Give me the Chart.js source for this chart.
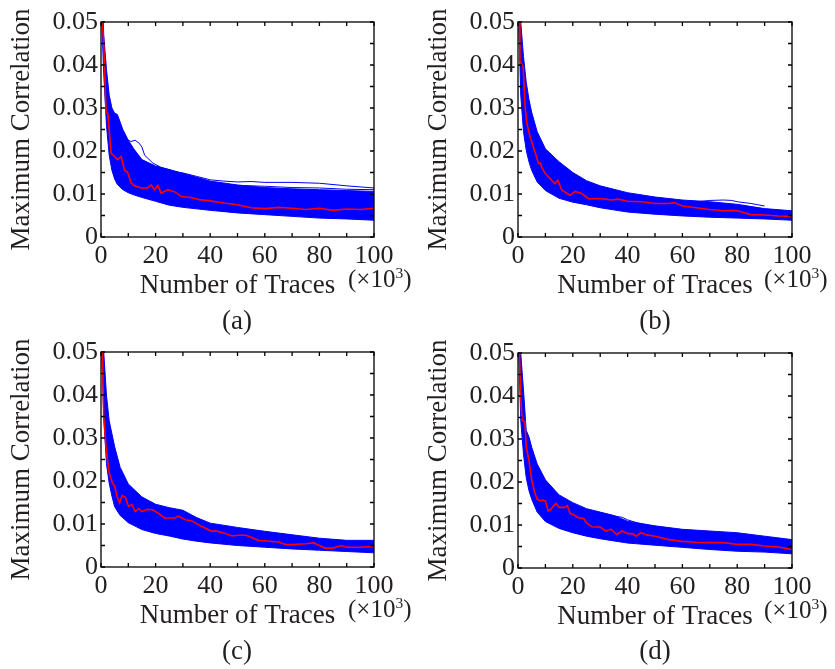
<!DOCTYPE html>
<html>
<head>
<meta charset="utf-8">
<script src="https://cdn.jsdelivr.net/npm/chart.js@4"></script>
<style>
  body { margin: 0; background: #fff; }
  #fig { position: relative; width: 835px; height: 669px; background: #fff; font-family: "Liberation Serif", serif; color: #231f20; }
  #fig canvas { position: absolute; }
  .unit { position: absolute; font-size: 25px; line-height: 25px; white-space: nowrap; }
  .unit sup { font-size: 0.62em; vertical-align: 0.55em; line-height: 0; }
  .cap { position: absolute; width: 100px; text-align: center; font-size: 27px; line-height: 28px; }
</style>
</head>
<body>
<div id="fig">
  <canvas id="ca" width="417" height="310" style="left:0;top:0"></canvas>
  <canvas id="cb" width="418" height="310" style="left:417px;top:0"></canvas>
  <canvas id="cc" width="417" height="310" style="left:0;top:330px"></canvas>
  <canvas id="cd" width="418" height="310" style="left:417px;top:331px"></canvas>
  <div class="unit" style="left:348px;top:266px">(×10<sup>3</sup>)</div>
  <div class="unit" style="left:764px;top:266px">(×10<sup>3</sup>)</div>
  <div class="unit" style="left:348px;top:596px">(×10<sup>3</sup>)</div>
  <div class="unit" style="left:764px;top:597px">(×10<sup>3</sup>)</div>
  <div class="cap" style="left:187px;top:306px">(a)</div>
  <div class="cap" style="left:605px;top:306px">(b)</div>
  <div class="cap" style="left:187px;top:636px">(c)</div>
  <div class="cap" style="left:605px;top:636px">(d)</div>
</div>
<script>
// tick marks (inward, every 10 on x and 0.005 on y)
const xTickMarks = [0, 10, 20, 30, 40, 50, 60, 70, 80, 90, 100];
const yTickMarks = [0, 0.005, 0.01, 0.015, 0.02, 0.025, 0.03, 0.035, 0.04, 0.045, 0.05];

// (a)  band = envelope of the blue traces
const aBandX = [0.3, 1, 2, 3, 4, 5, 6, 8, 10, 12, 15, 20, 25, 30, 40, 50, 60, 70, 80, 90, 100];
const aUpper = [0.06, 0.047, 0.039, 0.033, 0.03, 0.0288, 0.0285, 0.025, 0.0225, 0.0205, 0.018, 0.0165, 0.0157, 0.0148, 0.013, 0.0121, 0.0115, 0.0112, 0.011, 0.0108, 0.0106];
const aLower = [0.05, 0.038, 0.026, 0.019, 0.0155, 0.0135, 0.0122, 0.011, 0.0103, 0.0098, 0.0092, 0.0083, 0.0074, 0.0069, 0.0062, 0.0056, 0.0052, 0.0048, 0.0044, 0.0042, 0.0039];
const aOut1X = [8, 9, 11, 12.5, 14, 15, 16, 19, 22, 27, 30, 35, 40, 45, 50, 55, 60, 70, 80, 90, 100];
const aOut1Y = [0.024, 0.0228, 0.0222, 0.0225, 0.0218, 0.0209, 0.019, 0.0172, 0.0162, 0.0152, 0.0149, 0.0141, 0.0133, 0.013, 0.0128, 0.0129, 0.0127, 0.0127, 0.0125, 0.0119, 0.0114];
const aOut2X = [30, 36, 40, 50, 60, 70, 80, 90, 100];
const aOut2Y = [0.0145, 0.0128, 0.0126, 0.012, 0.0118, 0.0115, 0.0114, 0.0111, 0.011];
const aRedX = [0.5, 1, 1.5, 1.9, 2.5, 3, 3.7, 5, 6, 7.4, 8.6, 9.8, 11, 12.2, 14.7, 17, 18.4, 19.6, 20.8, 22, 24.5, 27, 29.4, 33, 36, 40, 45, 50, 55, 60, 65, 70, 75, 80, 85, 90, 95, 100];
const aRedY = [0.05, 0.045, 0.035, 0.0289, 0.0287, 0.025, 0.0195, 0.0187, 0.018, 0.0187, 0.0156, 0.015, 0.0126, 0.0119, 0.0114, 0.0114, 0.0121, 0.011, 0.012, 0.0102, 0.011, 0.0105, 0.0094, 0.0092, 0.0087, 0.0084, 0.0079, 0.0075, 0.0068, 0.0066, 0.0069, 0.0067, 0.0064, 0.0067, 0.0062, 0.0065, 0.0064, 0.0067];

// (b)
const bBandX = [0.3, 1, 2, 3, 4, 5, 7, 10, 15, 20, 25, 30, 40, 50, 60, 70, 75, 80, 90, 100];
const bUpper = [0.07, 0.05, 0.042, 0.036, 0.032, 0.029, 0.0245, 0.0205, 0.0175, 0.015, 0.0131, 0.0119, 0.0103, 0.0093, 0.0086, 0.0082, 0.0079, 0.0076, 0.0066, 0.0061];
const bLower = [0.05, 0.033, 0.0245, 0.0202, 0.0175, 0.0155, 0.0128, 0.0108, 0.009, 0.0081, 0.0075, 0.0068, 0.0058, 0.0053, 0.0049, 0.0046, 0.0045, 0.0044, 0.0042, 0.0039];
const bOut1X = [65, 70, 75, 78, 80, 85, 90];
const bOut1Y = [0.0082, 0.0085, 0.0086, 0.0085, 0.0082, 0.0078, 0.0072];
const bRedX = [0.5, 0.7, 1.9, 2.5, 3.2, 4.4, 5.6, 7.5, 8.2, 8.7, 9.9, 12.3, 13.5, 14.5, 16, 19, 20.8, 23.3, 25.7, 30, 32, 34, 36.7, 40, 45, 50, 55, 57, 60, 65, 70, 75, 78, 80, 85, 90, 95, 100];
const bRedY = [0.05, 0.041, 0.0395, 0.031, 0.0265, 0.0233, 0.021, 0.0171, 0.0172, 0.0162, 0.0148, 0.0132, 0.0124, 0.0132, 0.0109, 0.0097, 0.0106, 0.0101, 0.0089, 0.0089, 0.0088, 0.0086, 0.0088, 0.0083, 0.0082, 0.0078, 0.0078, 0.008, 0.0072, 0.0068, 0.0064, 0.0061, 0.0062, 0.0061, 0.0052, 0.0051, 0.0049, 0.0048];

// (c)
const cBandX = [0.3, 1, 2, 3, 4, 5, 7, 10, 15, 20, 25, 30, 35, 40, 50, 60, 70, 80, 90, 100];
const cUpper = [0.07, 0.05, 0.04, 0.034, 0.031, 0.028, 0.0232, 0.0193, 0.0163, 0.0146, 0.0138, 0.0132, 0.0115, 0.0102, 0.0092, 0.0083, 0.0075, 0.0067, 0.0062, 0.0062];
const cLower = [0.05, 0.035, 0.024, 0.0195, 0.0165, 0.014, 0.012, 0.0103, 0.0087, 0.0078, 0.0072, 0.0065, 0.006, 0.0056, 0.005, 0.0046, 0.0042, 0.0039, 0.0036, 0.0033];
const cRedX = [0.5, 1, 1.9, 3, 4.2, 5, 5.9, 6.8, 7.7, 8.9, 10.1, 11.3, 12.6, 13.8, 15, 17, 18.9, 20.8, 23.3, 27, 28.4, 30.9, 33.3, 37, 40.6, 42, 45, 48, 50, 53, 55, 58, 60, 65, 68, 70, 75, 78, 80, 82, 85, 88, 90, 95, 100];
const cRedY = [0.05, 0.035, 0.0273, 0.0219, 0.0195, 0.0188, 0.0164, 0.0149, 0.0166, 0.0162, 0.0141, 0.0145, 0.0129, 0.0136, 0.0129, 0.0134, 0.0133, 0.0126, 0.0114, 0.0114, 0.0118, 0.011, 0.0107, 0.0094, 0.0083, 0.0084, 0.0079, 0.0072, 0.0074, 0.0074, 0.0069, 0.0061, 0.0061, 0.0058, 0.0052, 0.0052, 0.0054, 0.0056, 0.005, 0.0044, 0.0044, 0.005, 0.0046, 0.0046, 0.0048];

// (d)
const dBandX = [0.3, 1, 2, 3, 4, 5, 7, 10, 15, 20, 25, 30, 35, 40, 50, 60, 70, 80, 90, 100];
const dUpper = [0.07, 0.05, 0.0414, 0.032, 0.0305, 0.0281, 0.0242, 0.0205, 0.017, 0.0152, 0.0138, 0.013, 0.0122, 0.0109, 0.0098, 0.009, 0.0086, 0.0082, 0.0074, 0.0066];
const dLower = [0.05, 0.0344, 0.0265, 0.021, 0.018, 0.016, 0.013, 0.0108, 0.0092, 0.0082, 0.0074, 0.0068, 0.0063, 0.0058, 0.0053, 0.0048, 0.0043, 0.0039, 0.0037, 0.0033];
const dOut1X = [22, 25, 28, 30, 33, 35, 38, 40, 42, 45, 50];
const dOut1Y = [0.0135, 0.0129, 0.0128, 0.0124, 0.0124, 0.0121, 0.0118, 0.0112, 0.0108, 0.0102, 0.0095];
const dRedX = [0.5, 1, 1.5, 2.5, 3, 4, 5, 6, 7, 8, 9, 10, 11, 12, 13, 14, 15, 17, 18, 19, 20, 22, 24, 25, 27, 30, 32, 34, 36, 38, 40, 42, 43, 45, 47, 50, 55, 60, 65, 70, 75, 80, 85, 90, 95, 100];
const dRedY = [0.05, 0.0398, 0.0344, 0.034, 0.0281, 0.025, 0.0205, 0.0178, 0.016, 0.0156, 0.0158, 0.0156, 0.0133, 0.0136, 0.0145, 0.015, 0.0141, 0.0141, 0.0145, 0.0127, 0.0125, 0.0117, 0.0115, 0.0105, 0.0096, 0.0095, 0.0086, 0.009, 0.0078, 0.0086, 0.008, 0.008, 0.0074, 0.0082, 0.0077, 0.0074, 0.0066, 0.0062, 0.006, 0.0059, 0.0059, 0.0055, 0.0055, 0.0051, 0.0049, 0.0043];

const BLUE = "#0000ff";
const RED = "#ff0000";
const INK = "#231f20";
const pts = (xs, ys) => xs.map((x, i) => ({ x: x, y: ys[i] }));

// box round the plot with inward ticks on all four sides
const frame = {
  id: "frame",
  afterDatasetsDraw(chart) {
    const { ctx, chartArea: a, scales: { x, y } } = chart;
    const tl = 4;
    ctx.save();
    ctx.strokeStyle = "#000";
    ctx.lineWidth = 1.3;
    ctx.beginPath();
    xTickMarks.forEach(v => {
      const px = x.getPixelForValue(v);
      ctx.moveTo(px, a.bottom); ctx.lineTo(px, a.bottom - tl);
      ctx.moveTo(px, a.top); ctx.lineTo(px, a.top + tl);
    });
    yTickMarks.forEach(v => {
      const py = y.getPixelForValue(v);
      ctx.moveTo(a.left, py); ctx.lineTo(a.left + tl, py);
      ctx.moveTo(a.right, py); ctx.lineTo(a.right - tl, py);
    });
    ctx.stroke();
    ctx.strokeRect(a.left, a.top, a.right - a.left, a.bottom - a.top);
    ctx.restore();
  }
};

function makePanel(id, bandX, upper, lower, extras, redX, redY) {
  // red goes first so it sits on top (lower order is drawn last)
  const datasets = [
    { data: pts(redX, redY), borderColor: RED, borderWidth: 1.6, fill: false, order: 0 },
    { data: pts(bandX, lower), borderColor: BLUE, borderWidth: 1, fill: false, order: 2 },
    { data: pts(bandX, upper), borderColor: BLUE, borderWidth: 1, backgroundColor: BLUE, fill: 1, order: 2 }
  ];
  extras.forEach(e => datasets.push({ data: pts(e[0], e[1]), borderColor: BLUE, borderWidth: 1, fill: false, order: 1 }));

  new Chart(document.getElementById(id), {
    type: "line",
    data: { datasets: datasets },
    plugins: [frame],
    options: {
      responsive: false,
      animation: false,
      layout: { padding: { left: 0, top: 22, right: 43, bottom: 0 } },
      elements: { point: { radius: 0 }, line: { tension: 0 } },
      plugins: { legend: { display: false }, tooltip: { enabled: false } },
      scales: {
        x: {
          type: "linear", min: 0, max: 100,
          afterFit: s => { s.height = 73; },
          grid: { display: false, drawTicks: false },
          border: { display: false },
          ticks: { stepSize: 20, padding: 4, color: INK, font: { family: "Liberation Serif", size: 26 } },
          title: { display: true, text: "Number of Traces", color: INK, padding: { top: 0, bottom: 8 }, font: { family: "Liberation Serif", size: 27 } }
        },
        y: {
          type: "linear", min: 0, max: 0.05,
          afterFit: s => { s.width = 101; },
          grid: { display: false, drawTicks: false },
          border: { display: false },
          ticks: { stepSize: 0.01, padding: 3, color: INK, font: { family: "Liberation Serif", size: 26 },
            callback: v => v === 0 ? "0" : v.toFixed(2) },
          title: { display: true, text: "Maximum Correlation", color: INK, padding: { top: 6, bottom: 0 }, font: { family: "Liberation Serif", size: 27 } }
        }
      }
    }
  });
}

makePanel("ca", aBandX, aUpper, aLower, [[aOut1X, aOut1Y], [aOut2X, aOut2Y]], aRedX, aRedY);
makePanel("cb", bBandX, bUpper, bLower, [[bOut1X, bOut1Y]], bRedX, bRedY);
makePanel("cc", cBandX, cUpper, cLower, [], cRedX, cRedY);
makePanel("cd", dBandX, dUpper, dLower, [[dOut1X, dOut1Y]], dRedX, dRedY);
</script>
</body>
</html>
